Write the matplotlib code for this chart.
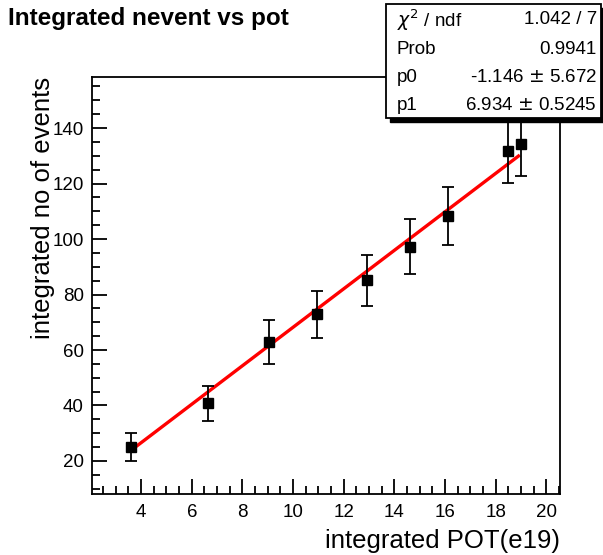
import numpy as np
import matplotlib
matplotlib.use('Agg')
import matplotlib.pyplot as plt
from matplotlib.ticker import MultipleLocator
from matplotlib.patches import Rectangle

plt.rcParams['font.family'] = ['Liberation Sans', 'DejaVu Sans']

# data
pot = [3.6, 6.63, 9.05, 10.96, 12.92, 14.63, 16.11, 18.5, 19.0]
nevents = [25.0, 40.8, 63.0, 72.9, 85.2, 97.2, 108.3, 131.7, 134.2]
nerr = [5.0, 6.4, 7.9, 8.5, 9.2, 9.9, 10.4, 11.5, 11.6]

# fit result
p0 = -1.146
p1 = 6.934
stat_labels = ['$\\chi^{2}$ / ndf', 'Prob', 'p0', 'p1']
stat_values = ['1.042 / 7', '0.9941', '-1.146 $\\pm$ 5.672', '6.934 $\\pm$ 0.5245']

W, H = 603, 555
fig = plt.figure(figsize=(W / 100, H / 100), dpi=100)
ax = fig.add_axes([92 / W, 1 - 494 / H, (560 - 92) / W, (494 - 77) / H])

ax.errorbar(pot, nevents, yerr=nerr, fmt='s', color='black', ms=6.5,
            elinewidth=1.3, capsize=4, capthick=1.3, zorder=3)
xf = np.array([pot[0], pot[-1] - 0.1])
ax.plot(xf, p0 + p1 * xf, color='red', lw=2.4, zorder=2)

ax.set_xlim(2.06, 20.54)
ax.set_ylim(8.1, 158.4)
ax.xaxis.set_major_locator(MultipleLocator(2))
ax.xaxis.set_minor_locator(MultipleLocator(0.5))
ax.yaxis.set_major_locator(MultipleLocator(20))
ax.yaxis.set_minor_locator(MultipleLocator(5))
ax.set_xticks([4, 6, 8, 10, 12, 14, 16, 18, 20])
ax.set_yticks([20, 40, 60, 80, 100, 120, 140])
ax.tick_params(which='both', direction='in', top=False, right=False, width=1.3, labelsize=13.5)
ax.tick_params(which='major', length=11)
ax.tick_params(which='minor', length=5.5)
ax.tick_params(axis='x', pad=7)
ax.tick_params(axis='y', pad=6)
for s in ax.spines.values():
    s.set_linewidth(1.3)

ax.set_xlabel('integrated POT(e19)', fontsize=18.5, loc='right', labelpad=6)
ax.set_ylabel('integrated no of events', fontsize=18.5, loc='top', labelpad=-2)

fig.text(8 / W, 1 - 19 / H, 'Integrated nevent vs pot', fontsize=17.5, fontweight='bold',
         va='center', ha='left')

# stats box with shadow
bx0, bx1, by0, by1 = 386, 601, 4, 118
fig.patches.append(Rectangle(((bx0 + 4) / W, 1 - (by1 + 4) / H), (bx1 - bx0) / W, (by1 - by0) / H,
                             transform=fig.transFigure, facecolor='black', edgecolor='black', zorder=5))
fig.patches.append(Rectangle((bx0 / W, 1 - by1 / H), (bx1 - bx0) / W, (by1 - by0) / H,
                             transform=fig.transFigure, facecolor='white', edgecolor='black',
                             lw=1.3, zorder=6))
rows_y = [20, 49, 78, 106]
for lab, val, yy in zip(stat_labels, stat_values, rows_y):
    fig.text(397 / W, 1 - yy / H, lab, fontsize=13.5, va='center', ha='left', zorder=7)
    fig.text(597 / W, 1 - yy / H, val, fontsize=13.5, va='center', ha='right', zorder=7)

fig.savefig('out.png', dpi=100)
